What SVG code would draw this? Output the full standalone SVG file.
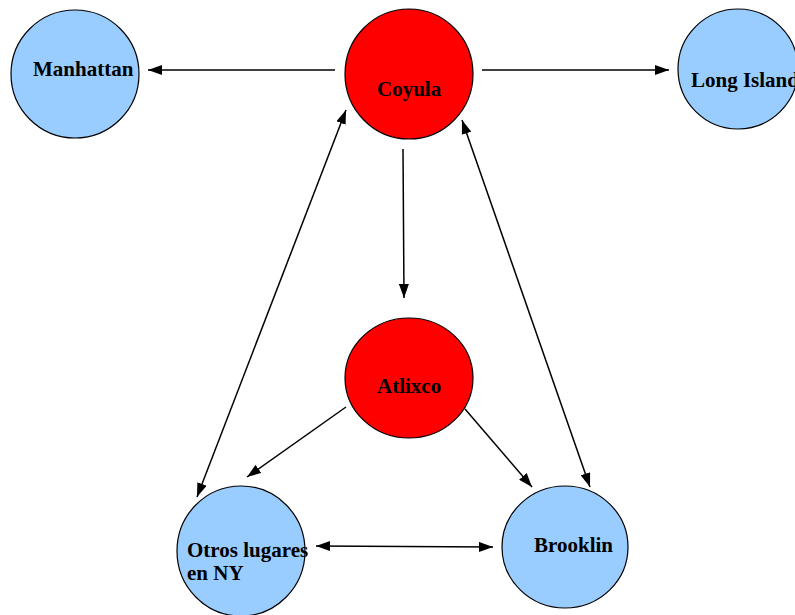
<svg xmlns="http://www.w3.org/2000/svg" width="795" height="615" viewBox="0 0 795 615">
<defs>
<marker id="ah" viewBox="0 0 14 10" refX="14" refY="5" markerWidth="14" markerHeight="10" markerUnits="userSpaceOnUse" orient="auto-start-reverse">
<path d="M0,0 L14,5 L0,10 Z" fill="#000"/>
</marker>
<style>
.red{fill:#ff0000;stroke:#000;stroke-width:1.2}
.blue{fill:#99ccff;stroke:#000;stroke-width:1.2}
.lbl{font-family:"Liberation Serif","Times New Roman",serif;font-weight:bold;font-size:21px;fill:#000}
.c{fill:none;stroke:#000;stroke-width:1.5}
</style>
</defs>
<rect width="795" height="615" fill="#fff"/>
<g id="manhattan"><ellipse class="blue" cx="75" cy="74" rx="64" ry="64"/><text class="lbl" x="33" y="76">Manhattan</text></g>
<g id="coyula"><ellipse class="red" cx="409" cy="74" rx="64" ry="65"/><text class="lbl" x="377" y="96">Coyula</text></g>
<g id="longisland"><ellipse class="blue" cx="738" cy="69" rx="60" ry="60"/><text class="lbl" x="691" y="87">Long Island</text></g>
<g id="atlixco"><ellipse class="red" cx="409" cy="378" rx="64" ry="60"/><text class="lbl" x="377" y="393">Atlixco</text></g>
<g id="otros"><ellipse class="blue" cx="241" cy="551" rx="64" ry="65"/><text class="lbl" x="187" y="557">Otros lugares</text><text class="lbl" x="187" y="580">en NY</text></g>
<g id="brooklin"><ellipse class="blue" cx="565" cy="547" rx="63" ry="61"/><text class="lbl" x="534" y="552">Brooklin</text></g>
<g id="connectors">
<line class="c" x1="335" y1="70" x2="148" y2="70" marker-end="url(#ah)"/>
<line class="c" x1="482" y1="70" x2="669" y2="70" marker-end="url(#ah)"/>
<line class="c" x1="403" y1="149" x2="404" y2="298" marker-end="url(#ah)"/>
<path class="c" d="M197,497 Q280,280 346,110" marker-start="url(#ah)" marker-end="url(#ah)"/>
<line class="c" x1="462" y1="120" x2="590" y2="487" marker-start="url(#ah)" marker-end="url(#ah)"/>
<line class="c" x1="346" y1="407" x2="247" y2="477" marker-end="url(#ah)"/>
<line class="c" x1="465" y1="409" x2="532" y2="487" marker-end="url(#ah)"/>
<line class="c" x1="316" y1="546" x2="493" y2="547" marker-start="url(#ah)" marker-end="url(#ah)"/>
</g>
</svg>
